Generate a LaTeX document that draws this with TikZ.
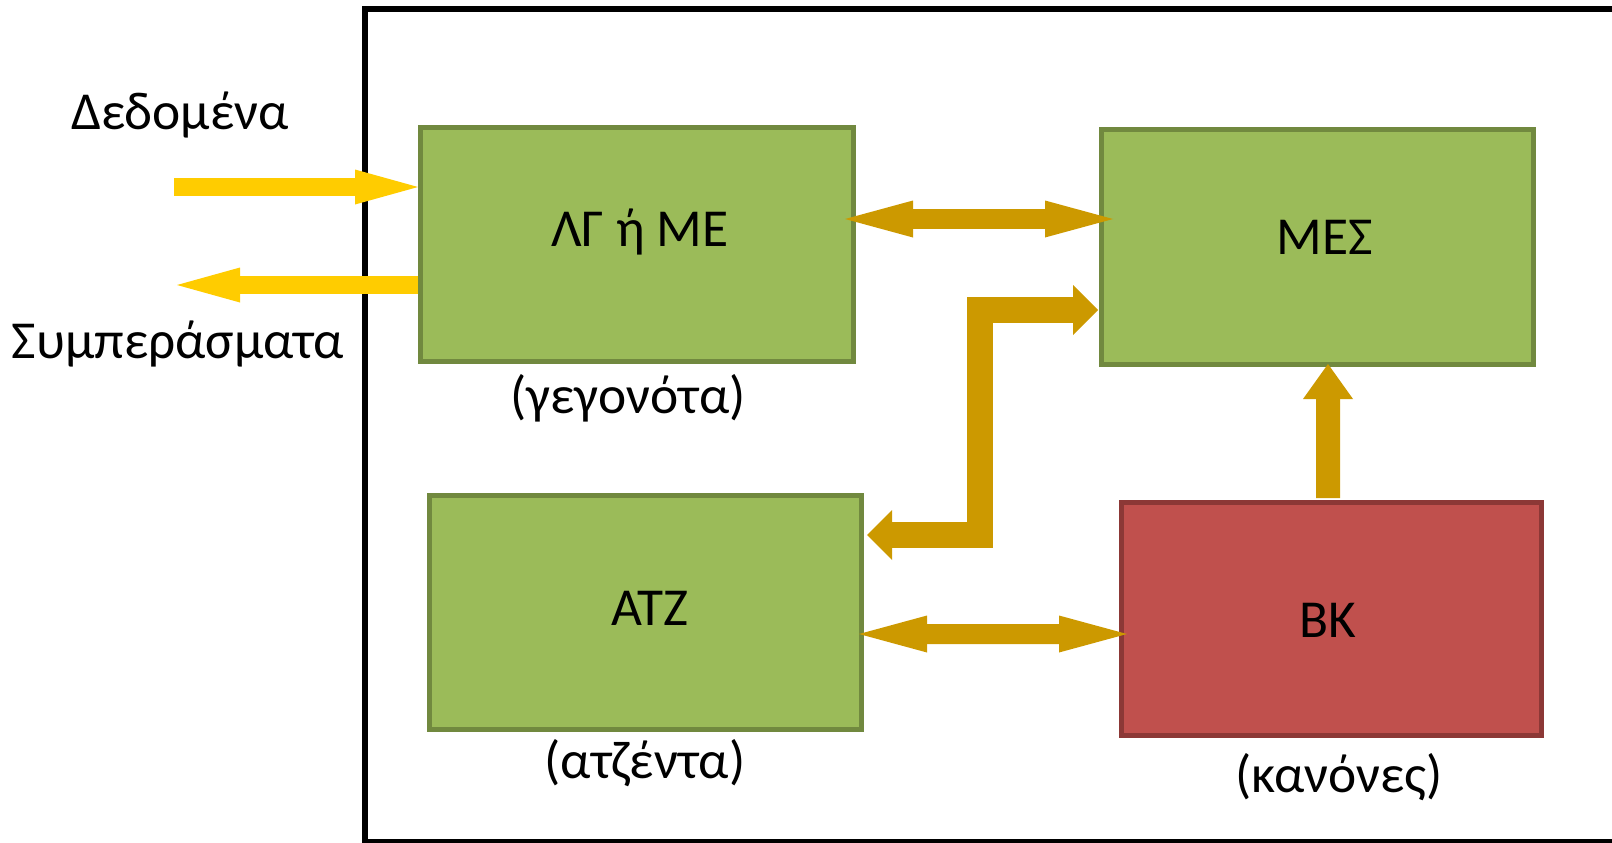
\documentclass[tikz,border=0pt]{standalone}
\usepackage{fontspec}
\setmainfont{Carlito}
\usepackage{tikz}
\usetikzlibrary{arrows.meta, calc}
\definecolor{boxgreen}{RGB}{155,187,89}
\definecolor{edgegreen}{RGB}{113,137,63}
\definecolor{boxred}{RGB}{192,80,77}
\definecolor{edgered}{RGB}{140,56,54}
\definecolor{inyellow}{RGB}{255,204,0}
\definecolor{flowgold}{RGB}{204,153,0}
\tikzset{
  greenbox/.style={rectangle, draw=edgegreen, fill=boxgreen, line width=0.5mm},
  redbox/.style={rectangle, draw=edgered, fill=boxred, line width=0.5mm},
  lbl/.style={anchor=base, inner sep=0pt, font=\fontsize{15.2}{18}\selectfont},
  ioarrow/.style={color=inyellow, line width=1.8mm,
    -{Triangle[width=3.5mm, length=6.3mm, line width=0pt]}},
  twoway/.style={color=flowgold, line width=2mm,
    {Triangle[width=3.7mm, length=6.8mm, line width=0pt]}-{Triangle[width=3.7mm, length=6.8mm, line width=0pt]}},
  elbow/.style={color=flowgold, line width=2.6mm, line join=miter,
    {Triangle[width=5mm, length=2.5mm, line width=0pt]}-{Triangle[width=5mm, length=2.5mm, line width=0pt]}},
  uparrow/.style={color=flowgold, line width=2.4mm,
    -{Triangle[width=5mm, length=3.5mm, line width=0pt]}}
}
\begin{document}
\begin{tikzpicture}[x=0.1mm, y=-0.1mm]
  \useasboundingbox (0,0) rectangle (1612,842);
  % system frame
  \draw[line width=0.6mm] (365,9) rectangle (1630,842);

  % blocks
  \node[greenbox, minimum width=43.3mm, minimum height=23.4mm] (lg) at (637,244.5) {};
  \node[greenbox, minimum width=43.2mm, minimum height=23.5mm] (mes) at (1317.5,247) {};
  \node[greenbox, minimum width=43.2mm, minimum height=23.4mm] (atz) at (645.5,612.5) {};
  \node[redbox, minimum width=42mm, minimum height=23.3mm] (bk) at (1331.5,619) {};

  % texts
  \node[lbl] (lgtxt) at (640,246) {ΛΓ ή ΜΕ};
  \node[lbl] (mestxt) at (1325,254) {ΜΕΣ};
  \node[lbl] (atztxt) at (650,625) {ΑΤΖ};
  \node[lbl] (bktxt) at (1328,637) {ΒΚ};
  \node[lbl] (lgsub) at (628,413) {(γεγονότα)};
  \node[lbl] (atzsub) at (645,778) {(ατζέντα)};
  \node[lbl] (bksub) at (1339,792) {(κανόνες)};
  \node[lbl] (intxt) at (180,129) {Δεδομένα};
  \node[lbl] (outtxt) at (178,358) {Συμπεράσματα};

  % input / output
  \coordinate (din) at (174,187);
  \coordinate (dout) at (177,285);
  \draw[ioarrow] (din) -- (din -| lg.west);
  \draw[ioarrow] (lg.west |- dout) -- (dout);

  % flows
  \draw[twoway] ($(lg.east)+(-11,-25.5)$) -- ($(mes.west)+(14,-28)$);
  \draw[elbow] ($(atz.east)+(3,-77.5)$) -- ++(113,0) |- ($(mes.west)+(-1,63)$);
  \draw[twoway] ($(atz.east)+(-5,21.5)$) -- ($(bk.west)+(8,15)$);
  \draw[uparrow] ($(bk.north)+(-3.5,-2)$) -- ($(mes.south)+(10.5,-3)$);
\end{tikzpicture}
\end{document}
